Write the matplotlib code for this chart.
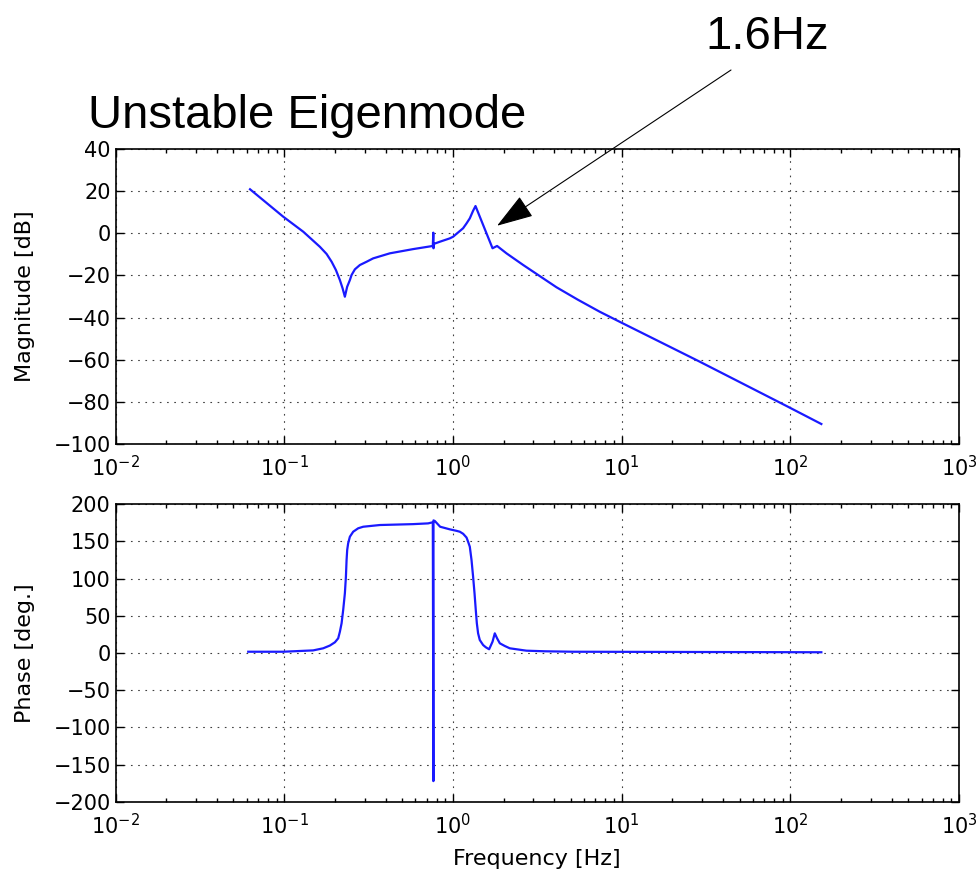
import matplotlib
matplotlib.use("Agg")
import matplotlib.pyplot as plt
from matplotlib.ticker import LogLocator, LogFormatterMathtext

# ---- data ----
mag_freq = [0.0627, 0.0986, 0.1297, 0.1627, 0.1783, 0.191, 0.2024, 0.2138, 0.2218,
            0.2288, 0.236, 0.245, 0.2507, 0.2623, 0.2808, 0.3077, 0.3365, 0.4227,
            0.5805, 0.760, 0.765, 0.767, 0.772, 0.8365, 0.9585, 1.003, 1.149,
            1.204, 1.259, 1.317, 1.361, 1.443, 1.581, 1.717, 1.827, 2.077, 2.605,
            3.272, 4.109, 5.5, 7.41, 9.745, 29.0, 96.8, 152.7]
mag_db = [20.9, 7.9, 0.75, -6.4, -9.8, -13.5, -17.4, -22.2, -26.1,
          -30.1, -25.4, -22.2, -19.8, -17.1, -15.05, -13.5, -11.9, -9.5,
          -7.5, -6.0, 0.3, -7.1, -5.0, -4.0, -2.4, -1.6, 2.4,
          4.7, 7.1, 10.7, 12.95, 7.9, 0.0, -7.1, -6.0, -9.5, -15.0,
          -20.3, -25.6, -31.5, -37.2, -42.0, -60.9, -82.3, -90.5]

ph_freq = [0.0612, 0.0987, 0.1485, 0.1702, 0.1865, 0.1998, 0.2089, 0.2138, 0.2188,
           0.2236, 0.2288, 0.2321, 0.2342, 0.2362, 0.2393, 0.245, 0.2563, 0.2744,
           0.2938, 0.369, 0.5805, 0.7129, 0.760, 0.766, 0.767, 0.781, 0.84,
           0.9585, 1.05, 1.099, 1.15, 1.204, 1.23, 1.259, 1.289, 1.317, 1.343, 1.366,
           1.386, 1.41, 1.443, 1.51, 1.566, 1.639, 1.717, 1.771, 1.827, 1.897,
           2.03, 2.173, 2.729, 3.5, 5.15, 152.7]
ph_deg = [1.7, 1.7, 3.5, 6.3, 10.0, 14.4, 19.7, 28.6, 39.9,
          57.7, 80.0, 102.4, 124.8, 138.3, 147.2, 156.1, 162.8, 167.4,
          169.5, 171.8, 173.0, 174.0, 175.5, -172.0, 178.0, 177.2, 169.5,
          166.0, 164.0, 162.8, 160.0, 155.0, 149.4, 142.7, 124.8, 102.4, 80.1, 57.7,
          39.9, 26.4, 17.4, 10.7, 7.7, 5.0, 15.2, 26.4, 19.7, 13.0,
          9.4, 6.3, 3.1, 2.3, 1.7, 1.0]

mag_ticks = [40, 20, 0, -20, -40, -60, -80, -100]
ph_ticks = [200, 150, 100, 50, 0, -50, -100, -150, -200]

title_text = "Unstable Eigenmode"
annot_text = "1.6Hz"
annot_point = (1.827, 3.6)

# ---- styling ----
plt.rcParams.update({
    "xtick.direction": "in", "ytick.direction": "in",
    "xtick.top": True, "ytick.right": True,
    "xtick.major.size": 6, "xtick.minor.size": 3,
    "ytick.major.size": 6, "ytick.minor.size": 3,
    "xtick.major.pad": 8, "xtick.minor.pad": 8,
    "xtick.labelsize": 15, "ytick.labelsize": 15,
    "axes.labelsize": 16, "axes.linewidth": 1.2,
    "font.family": "DejaVu Sans",
})

W, H = 979, 872
fig = plt.figure(figsize=(W / 100, H / 100), dpi=100)
ax1 = fig.add_axes([0.118, 0.4908, 0.8616, 0.3383])
ax2 = fig.add_axes([0.118, 0.0803, 0.8616, 0.3417])

for ax in (ax1, ax2):
    ax.set_xscale("log")
    ax.set_xlim(1e-2, 1e3)
    ax.xaxis.set_major_locator(LogLocator(base=10, numticks=10))
    ax.xaxis.set_minor_locator(LogLocator(base=10, subs=range(2, 10), numticks=20))
    ax.xaxis.set_major_formatter(LogFormatterMathtext())
    ax.grid(True, which="major", color="0.25", linestyle=(0, (1.5, 5)), linewidth=0.8)
    ax.tick_params(which="both", width=1.0)

ax1.plot(mag_freq, mag_db, color="#1a1aff", lw=1.6)
ax1.set_ylim(-100, 40)
ax1.set_yticks(mag_ticks)
ax1.set_ylabel("Magnitude [dB]")
ax1.yaxis.set_label_coords(-0.096, 0.5)

ax2.plot(ph_freq, ph_deg, color="#1a1aff", lw=1.6)
ax2.set_ylim(-200, 200)
ax2.set_yticks(ph_ticks)
ax2.set_ylabel("Phase [deg.]")
ax2.yaxis.set_label_coords(-0.096, 0.5)
ax2.set_xlabel("Frequency [Hz]", labelpad=8)

fig.text(88 / W, 1 - 128 / H, title_text, fontsize=34,
         family="Liberation Sans", ha="left", va="baseline")
fig.text(705 / W, 1 - 49 / H, annot_text, fontsize=34,
         family="Liberation Sans", ha="left", va="baseline")

ax1.annotate("", xy=annot_point, xycoords="data",
             xytext=(731, H - 70), textcoords="figure pixels",
             arrowprops=dict(arrowstyle="-|>,head_length=0.58,head_width=0.19",
                             mutation_scale=40, color="black", lw=0.8,
                             shrinkA=0, shrinkB=0),
             annotation_clip=False)

fig.savefig("out.png", dpi=100, facecolor="white")
